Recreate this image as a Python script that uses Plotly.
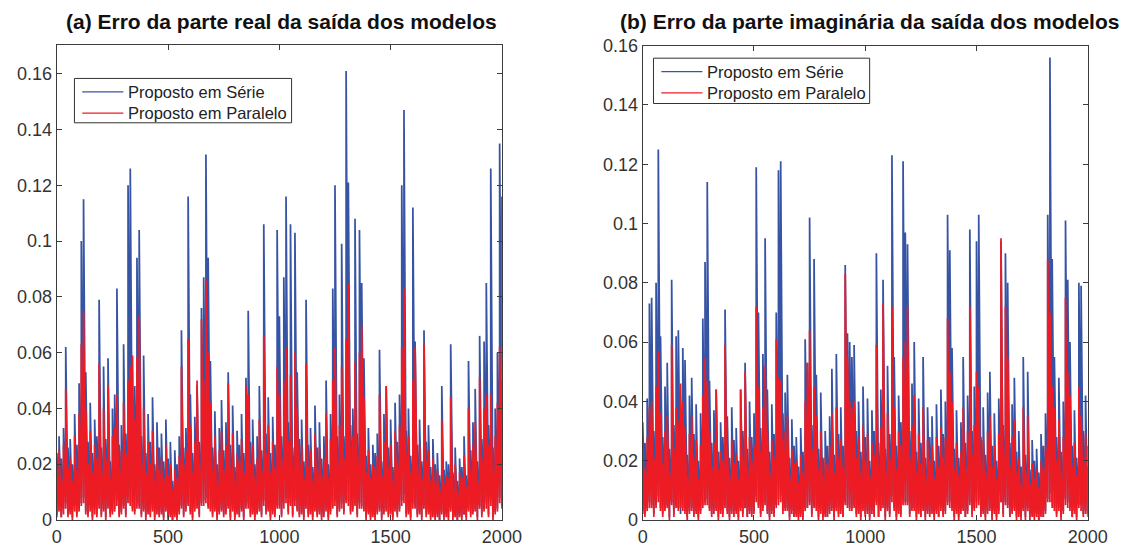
import plotly.graph_objects as go

# one column every 10 samples (0..2000); for each column the upper (hi) and lower (lo)
# extent of the error trace
step = 10

# (a) real part error
real_serie_hi = [
    0.024, 0.03, 0.022, 0.033, 0.062, 0.026, 0.029, 0.02, 0.038, 0.027,
    0.049, 0.100, 0.115, 0.053, 0.028, 0.042, 0.024, 0.036, 0.03, 0.079,
    0.026, 0.055, 0.029, 0.058, 0.021, 0.04, 0.045, 0.083, 0.027, 0.034,
    0.063, 0.031, 0.120, 0.126, 0.035, 0.048, 0.094, 0.104, 0.03, 0.059,
    0.024, 0.038, 0.028, 0.044, 0.02, 0.035, 0.026, 0.031, 0.021, 0.036,
    0.022, 0.028, 0.014, 0.025, 0.02, 0.03, 0.068, 0.026, 0.033, 0.116,
    0.045, 0.024, 0.037, 0.048, 0.028, 0.076, 0.087, 0.131, 0.094, 0.057,
    0.026, 0.039, 0.02, 0.033, 0.043, 0.025, 0.035, 0.053, 0.027, 0.041,
    0.019, 0.032, 0.027, 0.038, 0.024, 0.051, 0.075, 0.028, 0.036, 0.02,
    0.03, 0.048, 0.025, 0.106, 0.031, 0.044, 0.024, 0.037, 0.027, 0.104,
    0.073, 0.03, 0.087, 0.116, 0.035, 0.106, 0.026, 0.103, 0.053, 0.029,
    0.036, 0.021, 0.079, 0.027, 0.033, 0.019, 0.041, 0.026, 0.035, 0.022,
    0.03, 0.050, 0.02, 0.038, 0.083, 0.120, 0.03, 0.045, 0.099, 0.03,
    0.161, 0.121, 0.034, 0.04, 0.108, 0.031, 0.104, 0.085, 0.058, 0.023,
    0.033, 0.02, 0.027, 0.024, 0.031, 0.061, 0.021, 0.038, 0.048, 0.026,
    0.036, 0.019, 0.042, 0.028, 0.045, 0.120, 0.147, 0.032, 0.04, 0.023,
    0.112, 0.064, 0.027, 0.036, 0.021, 0.068, 0.028, 0.034, 0.019, 0.029,
    0.02, 0.024, 0.016, 0.048, 0.018, 0.021, 0.02, 0.063, 0.017, 0.026,
    0.014, 0.022, 0.019, 0.03, 0.016, 0.057, 0.025, 0.035, 0.047, 0.021,
    0.066, 0.029, 0.064, 0.085, 0.034, 0.126, 0.026, 0.04, 0.060, 0.135,
    0.116,
]
real_serie_lo = [
    0.002, 0.005, 0.001, 0.004, 0.006, 0.002, 0.003, 0.001, 0.005, 0.002,
    0.004, 0.006, 0.008, 0.003, 0.002, 0.005, 0.001, 0.004, 0.002, 0.006,
    0.002, 0.004, 0.001, 0.005, 0.002, 0.003, 0.004, 0.007, 0.002, 0.003,
    0.005, 0.002, 0.008, 0.006, 0.004, 0.003, 0.006, 0.005, 0.002, 0.004,
    0.001, 0.003, 0.002, 0.004, 0.001, 0.003, 0.002, 0.003, 0.001, 0.004,
    0.001, 0.002, 0.000, 0.002, 0.001, 0.003, 0.005, 0.002, 0.004, 0.006,
    0.003, 0.001, 0.004, 0.005, 0.002, 0.006, 0.007, 0.008, 0.005, 0.004,
    0.002, 0.004, 0.001, 0.003, 0.004, 0.002, 0.003, 0.005, 0.001, 0.004,
    0.001, 0.003, 0.002, 0.004, 0.001, 0.005, 0.006, 0.002, 0.003, 0.001,
    0.003, 0.004, 0.002, 0.007, 0.003, 0.004, 0.001, 0.003, 0.002, 0.006,
    0.005, 0.002, 0.006, 0.008, 0.003, 0.006, 0.002, 0.007, 0.004, 0.002,
    0.003, 0.001, 0.005, 0.002, 0.003, 0.001, 0.004, 0.002, 0.003, 0.001,
    0.002, 0.004, 0.001, 0.003, 0.005, 0.007, 0.002, 0.004, 0.006, 0.003,
    0.009, 0.007, 0.003, 0.004, 0.006, 0.002, 0.006, 0.005, 0.004, 0.001,
    0.003, 0.001, 0.002, 0.001, 0.003, 0.004, 0.001, 0.003, 0.004, 0.002,
    0.003, 0.001, 0.004, 0.002, 0.004, 0.007, 0.009, 0.002, 0.003, 0.001,
    0.006, 0.005, 0.002, 0.003, 0.001, 0.005, 0.002, 0.003, 0.001, 0.002,
    0.001, 0.002, 0.000, 0.003, 0.001, 0.002, 0.001, 0.004, 0.001, 0.002,
    0.000, 0.002, 0.001, 0.002, 0.001, 0.004, 0.002, 0.003, 0.004, 0.001,
    0.005, 0.002, 0.004, 0.006, 0.002, 0.007, 0.001, 0.003, 0.004, 0.008,
    0.005,
]
real_paralelo_hi = [
    0.018, 0.025, 0.015, 0.027, 0.047, 0.019, 0.022, 0.014, 0.03, 0.018,
    0.038, 0.063, 0.075, 0.04, 0.02, 0.032, 0.017, 0.027, 0.022, 0.056,
    0.018, 0.04, 0.022, 0.048, 0.015, 0.03, 0.033, 0.045, 0.019, 0.025,
    0.042, 0.024, 0.05, 0.055, 0.059, 0.036, 0.058, 0.073, 0.021, 0.04,
    0.017, 0.028, 0.02, 0.032, 0.014, 0.026, 0.018, 0.022, 0.015, 0.027,
    0.016, 0.02, 0.011, 0.018, 0.015, 0.023, 0.055, 0.02, 0.025, 0.065,
    0.034, 0.017, 0.028, 0.050, 0.02, 0.072, 0.05, 0.086, 0.06, 0.042,
    0.018, 0.03, 0.014, 0.025, 0.032, 0.018, 0.027, 0.049, 0.019, 0.031,
    0.014, 0.024, 0.021, 0.029, 0.017, 0.048, 0.045, 0.02, 0.027, 0.015,
    0.022, 0.036, 0.018, 0.066, 0.024, 0.034, 0.017, 0.028, 0.019, 0.055,
    0.045, 0.022, 0.05, 0.062, 0.028, 0.052, 0.019, 0.06, 0.04, 0.021,
    0.027, 0.015, 0.056, 0.019, 0.025, 0.014, 0.031, 0.018, 0.026, 0.016,
    0.022, 0.038, 0.015, 0.029, 0.05, 0.062, 0.022, 0.034, 0.055, 0.022,
    0.065, 0.085, 0.026, 0.03, 0.057, 0.023, 0.06, 0.07, 0.044, 0.017,
    0.025, 0.015, 0.02, 0.019, 0.023, 0.045, 0.016, 0.028, 0.048, 0.019,
    0.027, 0.014, 0.032, 0.021, 0.034, 0.062, 0.083, 0.024, 0.03, 0.017,
    0.05, 0.062, 0.019, 0.027, 0.015, 0.063, 0.021, 0.025, 0.014, 0.022,
    0.014, 0.018, 0.011, 0.036, 0.013, 0.016, 0.015, 0.044, 0.012, 0.02,
    0.01, 0.017, 0.015, 0.023, 0.012, 0.04, 0.018, 0.027, 0.035, 0.014,
    0.051, 0.022, 0.04, 0.045, 0.027, 0.045, 0.019, 0.03, 0.042, 0.062,
    0.05,
]
real_paralelo_lo = [
    0.001, 0.003, 0.001, 0.002, 0.004, 0.001, 0.002, 0.000, 0.003, 0.001,
    0.003, 0.005, 0.006, 0.002, 0.001, 0.003, 0.000, 0.002, 0.001, 0.004,
    0.001, 0.003, 0.000, 0.004, 0.001, 0.002, 0.003, 0.005, 0.001, 0.002,
    0.004, 0.001, 0.006, 0.005, 0.003, 0.002, 0.004, 0.004, 0.001, 0.003,
    0.000, 0.002, 0.001, 0.003, 0.000, 0.002, 0.001, 0.002, 0.000, 0.003,
    0.000, 0.001, 0.000, 0.001, 0.000, 0.002, 0.004, 0.001, 0.003, 0.005,
    0.002, 0.000, 0.003, 0.004, 0.001, 0.005, 0.005, 0.006, 0.004, 0.003,
    0.001, 0.003, 0.000, 0.002, 0.003, 0.001, 0.002, 0.004, 0.000, 0.003,
    0.000, 0.002, 0.001, 0.003, 0.000, 0.004, 0.004, 0.001, 0.002, 0.000,
    0.002, 0.003, 0.001, 0.005, 0.002, 0.003, 0.000, 0.002, 0.001, 0.004,
    0.004, 0.001, 0.004, 0.006, 0.002, 0.005, 0.001, 0.005, 0.003, 0.001,
    0.002, 0.000, 0.004, 0.001, 0.002, 0.000, 0.003, 0.001, 0.002, 0.000,
    0.001, 0.003, 0.000, 0.002, 0.004, 0.005, 0.001, 0.003, 0.004, 0.002,
    0.006, 0.005, 0.002, 0.003, 0.005, 0.001, 0.004, 0.004, 0.003, 0.000,
    0.002, 0.000, 0.001, 0.000, 0.002, 0.003, 0.000, 0.002, 0.003, 0.001,
    0.002, 0.000, 0.003, 0.001, 0.003, 0.005, 0.006, 0.001, 0.002, 0.000,
    0.004, 0.004, 0.001, 0.002, 0.000, 0.004, 0.001, 0.002, 0.000, 0.001,
    0.000, 0.001, 0.000, 0.002, 0.000, 0.001, 0.000, 0.003, 0.000, 0.001,
    0.000, 0.001, 0.000, 0.002, 0.000, 0.003, 0.001, 0.002, 0.003, 0.000,
    0.004, 0.001, 0.003, 0.004, 0.001, 0.005, 0.000, 0.002, 0.003, 0.006,
    0.004,
]

# (b) imaginary part error
imag_serie_hi = [
    0.033, 0.026, 0.041, 0.073, 0.075, 0.03, 0.080, 0.125, 0.062, 0.028,
    0.045, 0.053, 0.024, 0.081, 0.032, 0.062, 0.064, 0.027, 0.058, 0.054,
    0.022, 0.042, 0.048, 0.029, 0.039, 0.02, 0.036, 0.068, 0.087, 0.114,
    0.047, 0.026, 0.037, 0.044, 0.023, 0.033, 0.028, 0.071, 0.035, 0.021,
    0.038, 0.027, 0.031, 0.02, 0.044, 0.03, 0.053, 0.024, 0.04, 0.028,
    0.036, 0.119, 0.070, 0.031, 0.056, 0.095, 0.044, 0.023, 0.039, 0.029,
    0.070, 0.118, 0.121, 0.036, 0.043, 0.049, 0.021, 0.034, 0.025, 0.028,
    0.018, 0.031, 0.023, 0.061, 0.053, 0.102, 0.032, 0.088, 0.049, 0.024,
    0.043, 0.021, 0.03, 0.025, 0.035, 0.051, 0.022, 0.056, 0.029, 0.038,
    0.025, 0.086, 0.063, 0.06, 0.055, 0.059, 0.03, 0.04, 0.023, 0.045,
    0.028, 0.041, 0.02, 0.037, 0.03, 0.090, 0.026, 0.044, 0.081, 0.024,
    0.052, 0.029, 0.123, 0.055, 0.025, 0.042, 0.033, 0.121, 0.097, 0.093,
    0.03, 0.046, 0.060, 0.023, 0.041, 0.026, 0.055, 0.021, 0.038, 0.028,
    0.035, 0.02, 0.039, 0.025, 0.044, 0.029, 0.04, 0.103, 0.091, 0.058,
    0.024, 0.037, 0.021, 0.033, 0.055, 0.026, 0.042, 0.098, 0.03, 0.045,
    0.094, 0.103, 0.028, 0.038, 0.022, 0.043, 0.050, 0.025, 0.036, 0.02,
    0.041, 0.094, 0.032, 0.090, 0.080, 0.026, 0.039, 0.048, 0.023, 0.03,
    0.018, 0.055, 0.022, 0.050, 0.017, 0.027, 0.02, 0.024, 0.016, 0.029,
    0.025, 0.036, 0.103, 0.156, 0.088, 0.055, 0.028, 0.048, 0.023, 0.04,
    0.101, 0.081, 0.06, 0.025, 0.037, 0.021, 0.080, 0.079, 0.03, 0.042,
    0.025,
]
imag_serie_lo = [
    0.003, 0.002, 0.004, 0.006, 0.005, 0.002, 0.005, 0.008, 0.004, 0.002,
    0.004, 0.005, 0.001, 0.006, 0.002, 0.005, 0.004, 0.002, 0.004, 0.003,
    0.001, 0.003, 0.004, 0.002, 0.003, 0.001, 0.003, 0.005, 0.006, 0.007,
    0.004, 0.002, 0.003, 0.004, 0.001, 0.003, 0.002, 0.005, 0.003, 0.001,
    0.003, 0.002, 0.003, 0.001, 0.004, 0.002, 0.004, 0.001, 0.003, 0.002,
    0.003, 0.008, 0.005, 0.002, 0.004, 0.006, 0.003, 0.001, 0.003, 0.002,
    0.005, 0.007, 0.008, 0.003, 0.004, 0.004, 0.001, 0.003, 0.001, 0.002,
    0.001, 0.002, 0.001, 0.004, 0.004, 0.006, 0.002, 0.005, 0.004, 0.001,
    0.003, 0.001, 0.002, 0.001, 0.003, 0.004, 0.001, 0.004, 0.002, 0.003,
    0.001, 0.006, 0.005, 0.004, 0.004, 0.005, 0.002, 0.003, 0.001, 0.004,
    0.002, 0.003, 0.001, 0.003, 0.002, 0.006, 0.001, 0.004, 0.005, 0.001,
    0.004, 0.002, 0.008, 0.004, 0.001, 0.003, 0.002, 0.007, 0.006, 0.006,
    0.002, 0.004, 0.004, 0.001, 0.003, 0.001, 0.004, 0.001, 0.003, 0.002,
    0.003, 0.001, 0.003, 0.001, 0.004, 0.002, 0.003, 0.006, 0.006, 0.004,
    0.001, 0.003, 0.001, 0.003, 0.004, 0.001, 0.003, 0.006, 0.002, 0.004,
    0.006, 0.007, 0.002, 0.003, 0.001, 0.003, 0.004, 0.001, 0.003, 0.001,
    0.003, 0.006, 0.002, 0.006, 0.005, 0.001, 0.003, 0.004, 0.001, 0.002,
    0.001, 0.004, 0.001, 0.004, 0.001, 0.002, 0.001, 0.002, 0.000, 0.002,
    0.001, 0.003, 0.007, 0.009, 0.006, 0.004, 0.002, 0.004, 0.001, 0.003,
    0.007, 0.006, 0.004, 0.001, 0.003, 0.001, 0.005, 0.005, 0.002, 0.003,
    0.002,
]
imag_paralelo_hi = [
    0.024, 0.017, 0.028, 0.038, 0.04, 0.021, 0.045, 0.057, 0.036, 0.019,
    0.03, 0.035, 0.016, 0.059, 0.024, 0.038, 0.033, 0.046, 0.04, 0.031,
    0.015, 0.029, 0.035, 0.021, 0.027, 0.014, 0.025, 0.042, 0.055, 0.047,
    0.03, 0.018, 0.026, 0.044, 0.017, 0.023, 0.02, 0.059, 0.025, 0.015,
    0.027, 0.019, 0.022, 0.014, 0.044, 0.021, 0.050, 0.017, 0.028, 0.02,
    0.025, 0.072, 0.045, 0.023, 0.038, 0.052, 0.03, 0.016, 0.027, 0.021,
    0.061, 0.048, 0.047, 0.027, 0.03, 0.035, 0.015, 0.024, 0.019, 0.02,
    0.013, 0.022, 0.016, 0.04, 0.053, 0.064, 0.024, 0.045, 0.035, 0.017,
    0.03, 0.015, 0.021, 0.019, 0.025, 0.036, 0.016, 0.038, 0.021, 0.027,
    0.018, 0.083, 0.055, 0.04, 0.038, 0.04, 0.021, 0.028, 0.016, 0.032,
    0.02, 0.029, 0.015, 0.026, 0.022, 0.059, 0.018, 0.031, 0.073, 0.017,
    0.036, 0.021, 0.072, 0.038, 0.017, 0.03, 0.025, 0.055, 0.06, 0.072,
    0.021, 0.032, 0.042, 0.016, 0.029, 0.019, 0.038, 0.015, 0.027, 0.02,
    0.025, 0.014, 0.028, 0.018, 0.031, 0.021, 0.028, 0.068, 0.05, 0.04,
    0.017, 0.026, 0.015, 0.023, 0.038, 0.018, 0.03, 0.072, 0.022, 0.032,
    0.05, 0.045, 0.02, 0.027, 0.016, 0.03, 0.035, 0.018, 0.025, 0.014,
    0.029, 0.095, 0.024, 0.072, 0.055, 0.018, 0.028, 0.034, 0.016, 0.021,
    0.012, 0.038, 0.016, 0.035, 0.012, 0.019, 0.014, 0.017, 0.011, 0.02,
    0.018, 0.025, 0.088, 0.07, 0.045, 0.038, 0.02, 0.034, 0.016, 0.028,
    0.075, 0.05, 0.042, 0.018, 0.026, 0.015, 0.045, 0.035, 0.021, 0.029,
    0.018,
]
imag_paralelo_lo = [
    0.002, 0.001, 0.003, 0.004, 0.004, 0.001, 0.004, 0.006, 0.003, 0.001,
    0.003, 0.004, 0.000, 0.005, 0.001, 0.004, 0.003, 0.004, 0.003, 0.002,
    0.000, 0.002, 0.003, 0.001, 0.002, 0.000, 0.002, 0.004, 0.005, 0.005,
    0.003, 0.001, 0.002, 0.003, 0.000, 0.002, 0.001, 0.004, 0.002, 0.000,
    0.002, 0.001, 0.002, 0.000, 0.003, 0.001, 0.004, 0.001, 0.002, 0.001,
    0.002, 0.006, 0.004, 0.001, 0.003, 0.005, 0.002, 0.000, 0.002, 0.001,
    0.004, 0.005, 0.006, 0.002, 0.003, 0.003, 0.000, 0.002, 0.001, 0.001,
    0.000, 0.001, 0.000, 0.003, 0.004, 0.005, 0.001, 0.004, 0.003, 0.000,
    0.002, 0.000, 0.001, 0.001, 0.002, 0.003, 0.000, 0.003, 0.001, 0.002,
    0.001, 0.005, 0.004, 0.003, 0.003, 0.004, 0.001, 0.002, 0.000, 0.003,
    0.001, 0.002, 0.000, 0.002, 0.001, 0.005, 0.001, 0.003, 0.004, 0.000,
    0.003, 0.001, 0.006, 0.003, 0.000, 0.002, 0.001, 0.005, 0.005, 0.005,
    0.001, 0.003, 0.003, 0.000, 0.002, 0.001, 0.003, 0.000, 0.002, 0.001,
    0.002, 0.000, 0.002, 0.001, 0.003, 0.001, 0.002, 0.005, 0.004, 0.003,
    0.000, 0.002, 0.000, 0.002, 0.003, 0.001, 0.002, 0.005, 0.001, 0.003,
    0.004, 0.005, 0.001, 0.002, 0.000, 0.002, 0.003, 0.000, 0.002, 0.000,
    0.002, 0.006, 0.001, 0.005, 0.004, 0.001, 0.002, 0.003, 0.000, 0.001,
    0.000, 0.003, 0.000, 0.003, 0.000, 0.001, 0.000, 0.001, 0.000, 0.001,
    0.001, 0.002, 0.006, 0.006, 0.004, 0.003, 0.001, 0.003, 0.000, 0.002,
    0.005, 0.004, 0.003, 0.001, 0.002, 0.000, 0.004, 0.003, 0.001, 0.002,
    0.001,
]

x_ticks = [0, 500, 1000, 1500, 2000]
x_tick_text = ["0", "500", "1000", "1500", "2000"]
y_ticks = [0, 0.02, 0.04, 0.06, 0.08, 0.1, 0.12, 0.14, 0.16]
y_tick_text = ["0", "0.02", "0.04", "0.06", "0.08", "0.1", "0.12", "0.14", "0.16"]

series_names = ["Proposto em Série", "Proposto em Paralelo"]
titles = ["(a) Erro da parte real da saída dos modelos",
          "(b) Erro da parte imaginária da saída dos modelos"]

BLUE = "#3754a4"
RED = "#ed1c24"
FONT = "Liberation Sans, Arial, Helvetica, sans-serif"
AX = "#3c3c3c"

W, H = 1142, 556


def column_path(lo, hi):
    """Each column is drawn as a vertical stroke lo->hi, then joined to the next column."""
    xs, ys = [], []
    for i, (a, b) in enumerate(zip(lo, hi)):
        xs += [i * step, i * step]
        ys += [a, b]
    return xs, ys


panels = [("x", "y", (real_serie_lo, real_serie_hi), (real_paralelo_lo, real_paralelo_hi)),
          ("x2", "y2", (imag_serie_lo, imag_serie_hi), (imag_paralelo_lo, imag_paralelo_hi))]

fig = go.Figure()
for pi, (xa, ya, s_data, p_data) in enumerate(panels):
    for (lo, hi), color, name in ((s_data, BLUE, series_names[0]), (p_data, RED, series_names[1])):
        px_, py_ = column_path(lo, hi)
        fig.add_trace(go.Scatter(x=px_, y=py_, mode="lines", name=name, showlegend=False,
                                 line=dict(color=color, width=1.75),
                                 xaxis=xa, yaxis=ya))


def px_x(p):
    return p / W


def px_y(p):
    return 1 - p / H


common_x = dict(range=[0, 2000], tickvals=x_ticks, ticktext=x_tick_text,
                ticks="inside", ticklen=5, tickcolor=AX, showline=True, linecolor=AX,
                linewidth=1.3, mirror="ticks", showgrid=False, zeroline=False,
                tickfont=dict(family=FONT, size=18, color="#333333"))
common_y = dict(tickvals=y_ticks, ticktext=y_tick_text,
                ticks="inside", ticklen=5, tickcolor=AX, showline=True, linecolor=AX,
                linewidth=1.3, mirror="ticks", showgrid=False, zeroline=False,
                tickfont=dict(family=FONT, size=18, color="#333333"))

fig.update_layout(
    width=W, height=H,
    margin=dict(l=0, r=0, t=0, b=0),
    paper_bgcolor="white", plot_bgcolor="white",
    showlegend=False,
    xaxis=dict(domain=[px_x(53), px_x(508)], anchor="y", **common_x),
    yaxis=dict(domain=[px_y(529), px_y(36)], anchor="x", range=[0, 0.1704], **common_y),
    xaxis2=dict(domain=[px_x(652), px_x(1107)], anchor="y2", **common_x),
    yaxis2=dict(domain=[px_y(529), px_y(37)], anchor="x2", range=[0, 0.16], **common_y),
)

# titles
centers = [283, 884]
for c, t in zip(centers, titles):
    fig.add_annotation(text="<b>" + t + "</b>", x=px_x(c), y=px_y(12), xref="paper", yref="paper",
                       xanchor="center", yanchor="middle", showarrow=False,
                       font=dict(family=FONT, size=21, color="#111111"))

# legends (box, line samples, labels), one per panel, in pixel positions of the figure
legend_boxes = [(71, 71, 293, 117), (663, 50, 884, 97)]
for (x0, y0, x1, y1) in legend_boxes:
    fig.add_shape(type="rect", xref="paper", yref="paper",
                  x0=px_x(x0), x1=px_x(x1), y0=px_y(y0), y1=px_y(y1),
                  line=dict(color="#333333", width=1), fillcolor="white", layer="above")
    rows = [y0 + 14, y0 + 36]
    for ry, color, name in zip(rows, (BLUE, RED), series_names):
        fig.add_shape(type="line", xref="paper", yref="paper",
                      x0=px_x(x0 + 8), x1=px_x(x0 + 50), y0=px_y(ry), y1=px_y(ry),
                      line=dict(color=color, width=1.3), layer="above")
        fig.add_annotation(text=name, x=px_x(x0 + 53), y=px_y(ry), xref="paper", yref="paper",
                           xanchor="left", yanchor="middle", showarrow=False,
                           font=dict(family=FONT, size=16.5, color="#222222"))

fig.write_html("out.html", config={"displayModeBar": False})
